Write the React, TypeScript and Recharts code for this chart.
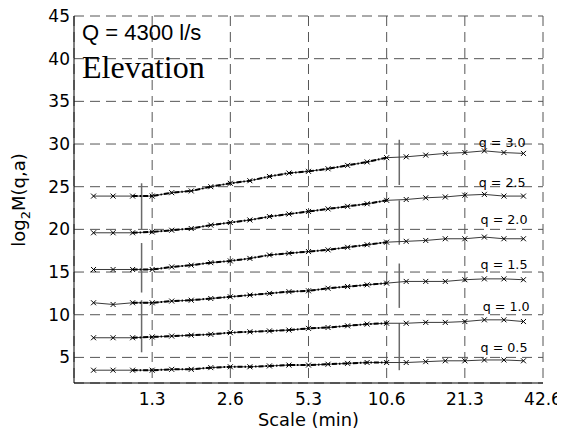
import React from 'react';
import { LineChart, Line, XAxis, YAxis, CartesianGrid, ReferenceLine, ReferenceDot, Label } from 'recharts';

// Scale (minutes), quarter-octave steps
const scales = [0.7928, 0.9428, 1.1212, 1.3333, 1.5856, 1.8856, 2.2424, 2.6667, 3.1712, 3.7712, 4.4848, 5.3333, 6.3424, 7.5425, 8.9696, 10.6667, 12.6849, 15.0849, 17.9391, 21.3333, 25.3697, 30.1699, 35.8783];

const q30 = [23.9, 23.9, 23.9, 23.9, 24.3, 24.5, 25.0, 25.4, 25.7, 26.2, 26.6, 26.8, 27.1, 27.5, 27.9, 28.4, 28.5, 28.7, 28.9, 29.0, 29.2, 29.0, 28.9];
const q25 = [19.6, 19.6, 19.6, 19.7, 19.9, 20.1, 20.5, 20.8, 21.1, 21.5, 21.8, 22.1, 22.4, 22.7, 23.0, 23.4, 23.5, 23.7, 23.8, 24.0, 24.1, 23.9, 23.9];
const q20 = [15.3, 15.3, 15.3, 15.3, 15.6, 15.8, 16.1, 16.3, 16.6, 17.0, 17.2, 17.4, 17.6, 17.9, 18.2, 18.5, 18.6, 18.7, 18.9, 18.9, 19.1, 18.9, 18.9];
const q15 = [11.4, 11.2, 11.4, 11.4, 11.6, 11.7, 11.9, 12.1, 12.3, 12.5, 12.7, 12.8, 13.1, 13.3, 13.5, 13.7, 13.9, 13.9, 13.9, 14.1, 14.2, 14.2, 14.1];
const q10 = [7.3, 7.3, 7.3, 7.4, 7.5, 7.6, 7.7, 7.9, 8.0, 8.1, 8.2, 8.4, 8.5, 8.7, 8.9, 9.0, 9.0, 9.1, 9.1, 9.2, 9.4, 9.4, 9.2];
const q05 = [3.5, 3.5, 3.5, 3.5, 3.6, 3.6, 3.8, 3.9, 3.9, 4.0, 4.1, 4.1, 4.2, 4.3, 4.4, 4.4, 4.4, 4.5, 4.6, 4.6, 4.7, 4.7, 4.6];

const seriesKeys = ['q30', 'q25', 'q20', 'q15', 'q10', 'q05'];
const seriesValues = [q30, q25, q20, q15, q10, q05];
const seriesLabels = ['q = 3.0', 'q = 2.5', 'q = 2.0', 'q = 1.5', 'q = 1.0', 'q = 0.5'];
const labelScale = [29.7, 29.7, 30.2, 30.2, 30.8, 30.2];
const labelValues = [30.2, 25.5, 21.1, 15.9, 11.0, 6.2];

// fit range (indices into scales)
const fitStart = 2;
const fitEnd = 15;

// vertical range markers
const leftBarScale = 1.214;
const rightBarScale = 11.93;
const leftBars = [[20.0, 25.4], [12.6, 18.4], [5.6, 11.7]];
const rightBars = [[25.2, 30.5], [18.2, 23.4], [10.8, 16.0], [3.5, 9.0]];

const xTicks = [1.3333, 2.6667, 5.3333, 10.6667, 21.3333, 42.6667];
const xTickLabels = ['1.3', '2.6', '5.3', '10.6', '21.3', '42.6'];
const yTicks = [5, 10, 15, 20, 25, 30, 35, 40, 45];
const xDomain = [0.66667, 42.6667];
const yDomain = [2, 45];

const data = scales.map((s, i) => {
  const row: any = { scale: s };
  seriesKeys.forEach((k, j) => {
    row[k] = seriesValues[j][i];
    row['fit_' + k] = i >= fitStart && i <= fitEnd ? seriesValues[j][i] : null;
  });
  return row;
});

const XDot = (props: any) => {
  const { cx, cy, index } = props;
  if (cx == null || cy == null) return <g key={'n' + index} />;
  const d = 2.5;
  return (
    <path
      key={'d' + index}
      d={`M${cx - d},${cy - d}L${cx + d},${cy + d}M${cx - d},${cy + d}L${cx + d},${cy - d}`}
      stroke="#000"
      strokeWidth={1}
      fill="none"
    />
  );
};

const SANS = 'DejaVu Sans, sans-serif';

export default function App() {
  return (
    <div style={{ margin: -8, width: 565, height: 437, position: 'relative', overflow: 'hidden', background: '#fff' }}>
      <LineChart width={565} height={437} data={data} margin={{ top: 16, right: 22, left: 0, bottom: 0 }}>
        <CartesianGrid stroke="#555" strokeDasharray="10 6" />
        <XAxis
          dataKey="scale"
          type="number"
          scale="log"
          domain={xDomain}
          ticks={xTicks}
          allowDataOverflow
          tickFormatter={(v: number, i: number) => xTickLabels[i]}
          tickLine={false}
          tickSize={6}
          tickMargin={4}
          height={54}
          axisLine={{ stroke: '#000' }}
          tick={{ fill: '#000', fontSize: 17, fontFamily: SANS }}
          interval={0}
        >
          <Label
            content={(p: any) => {
              const vb = p.viewBox;
              return (
                <text x={vb.x + vb.width / 2} y={vb.y + 43} textAnchor="middle" fontSize={17.8} fontFamily={SANS} fill="#000">
                  Scale (min)
                </text>
              );
            }}
          />
        </XAxis>
        <XAxis xAxisId="top" orientation="top" type="number" domain={xDomain} height={0} tick={false} tickLine={false} axisLine={{ stroke: '#000' }} />
        <YAxis
          type="number"
          domain={yDomain}
          ticks={yTicks}
          allowDataOverflow
          width={74}
          tickLine={false}
          tickSize={4}
          tickMargin={0}
          axisLine={{ stroke: '#000' }}
          tick={{ fill: '#000', fontSize: 17, fontFamily: SANS }}
          interval={0}
        >
          <Label
            content={() => (
              <text transform="rotate(-90)" x={-200} y={25} textAnchor="middle" fontSize={18} fontFamily={SANS} fill="#000">
                log<tspan dy={5} fontSize={13}>2</tspan><tspan dy={-5}>M(q,a)</tspan>
              </text>
            )}
          />
        </YAxis>
        <YAxis yAxisId="right" orientation="right" type="number" domain={yDomain} width={0} tick={false} tickLine={false} axisLine={{ stroke: '#000' }} />

        {leftBars.map((b, i) => (
          <ReferenceLine key={'lb' + i} segment={[{ x: leftBarScale, y: b[0] }, { x: leftBarScale, y: b[1] }]} stroke="#6a6a6a" strokeWidth={1.5} />
        ))}
        {rightBars.map((b, i) => (
          <ReferenceLine key={'rb' + i} segment={[{ x: rightBarScale, y: b[0] }, { x: rightBarScale, y: b[1] }]} stroke="#6a6a6a" strokeWidth={1.5} />
        ))}

        {seriesKeys.map((k) => (
          <Line key={k} dataKey={k} stroke="#3a3a3a" strokeWidth={1} dot={XDot} activeDot={false} isAnimationActive={false} type="linear" />
        ))}
        {seriesKeys.map((k) => (
          <Line key={'fit_' + k} dataKey={'fit_' + k} stroke="#000" strokeWidth={2} strokeDasharray="5 2 1.5 2" dot={false} activeDot={false} isAnimationActive={false} type="linear" connectNulls={false} />
        ))}

        {seriesLabels.map((lab, i) => (
          <ReferenceDot
            key={'lab' + i}
            x={labelScale[i]}
            y={labelValues[i]}
            r={0}
            stroke="none"
            fill="none"
            label={{ value: lab, position: 'center', fontSize: 12.7, fontFamily: SANS, fill: '#000' }}
          />
        ))}
      </LineChart>
      <svg width={565} height={437} style={{ position: 'absolute', left: 0, top: 0, pointerEvents: 'none' }}>
        <text x={82} y={40} fontSize={22} fontFamily="Liberation Sans, Arial, sans-serif" fill="#000">Q = 4300 l/s</text>
        <text x={82} y={78} fontSize={32} fontFamily="Liberation Serif, Times New Roman, serif" fill="#000">Elevation</text>
      </svg>
    </div>
  );
}
